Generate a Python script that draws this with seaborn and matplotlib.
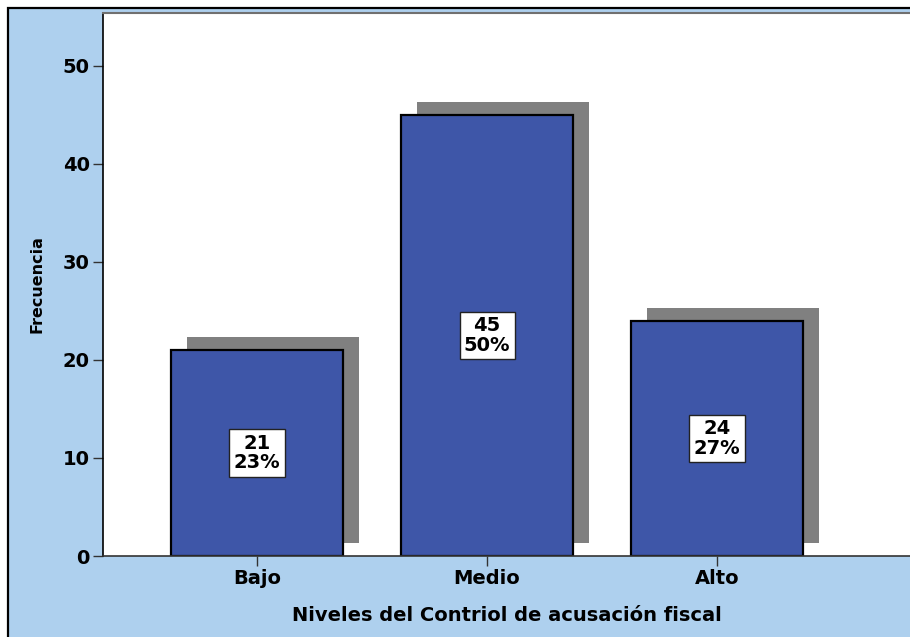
import numpy as np
import pandas as pd
import matplotlib
matplotlib.use("Agg")
import matplotlib.pyplot as plt
import matplotlib.patheffects as pe
from matplotlib.patches import Rectangle
import seaborn as sns

# Datos
categorias = ["Bajo", "Medio", "Alto"]
frecuencias = [21, 45, 24]
porcentajes = ["23%", "50%", "27%"]

df = pd.DataFrame({"nivel": categorias, "frecuencia": frecuencias})

sns.set_style("white")
plt.rcParams["font.family"] = ["DejaVu Sans"]
plt.rcParams["font.weight"] = "bold"
plt.rcParams["text.color"] = "black"
plt.rcParams["axes.labelcolor"] = "black"
plt.rcParams["xtick.color"] = "black"
plt.rcParams["ytick.color"] = "black"

fondo = "#AED0EE"
azul = "#3E56A8"

fig = plt.figure(figsize=(9.1, 6.37), dpi=100)
fig.patch.set_facecolor("white")
# marco exterior celeste con borde negro
fig.patches.append(Rectangle((8 / 910, -0.05), 1.2, (637 - 8) / 637 + 0.05,
                             transform=fig.transFigure, facecolor=fondo,
                             edgecolor="black", linewidth=1.6, zorder=-10))

ax = fig.add_axes([103 / 910, (637 - 556) / 637, 1 - 103 / 910, (556 - 13) / 637])
ax.set_facecolor("white")

sns.barplot(data=df, x="nivel", y="frecuencia", color=azul, saturation=1,
            width=0.75, edgecolor="black", linewidth=1.6, ax=ax)

# sombra gris de las barras
for p in ax.patches:
    p.set_path_effects([pe.SimplePatchShadow(offset=(11.5, 9.5), shadow_rgbFace="#808080", alpha=1),
                        pe.Normal()])

# etiquetas dentro de las barras
for i, (f, pc) in enumerate(zip(frecuencias, porcentajes)):
    ax.text(i, f / 2, f"{f}\n{pc}", ha="center", va="center", fontsize=14,
            fontweight="bold", linespacing=1.05, zorder=5,
            bbox=dict(boxstyle="square,pad=0.22", facecolor="white",
                      edgecolor="#222222", linewidth=1))

ax.set_xlim(-0.67, 2.839)
ax.set_ylim(0, 55.4)
ax.set_yticks([0, 10, 20, 30, 40, 50])

ax.set_xlabel("Niveles del Contriol de acusación fiscal", fontsize=14,
              fontweight="bold", labelpad=13)
ax.set_ylabel("Frecuencia", fontsize=11.5, fontweight="bold", labelpad=13)

ax.tick_params(axis="both", direction="out", length=7, width=1, color="#333333",
               labelsize=14, pad=2.5, left=True, bottom=True)
for lab in ax.get_xticklabels() + ax.get_yticklabels():
    lab.set_fontweight("bold")

ax.spines["right"].set_visible(False)
ax.spines["top"].set_color("#707070")
ax.spines["top"].set_linewidth(1.5)
ax.spines["left"].set_color("black")
ax.spines["left"].set_linewidth(1.2)
ax.spines["bottom"].set_color("#333333")
ax.spines["bottom"].set_linewidth(1.2)

fig.savefig("out.png", dpi=100, facecolor=fig.get_facecolor())
